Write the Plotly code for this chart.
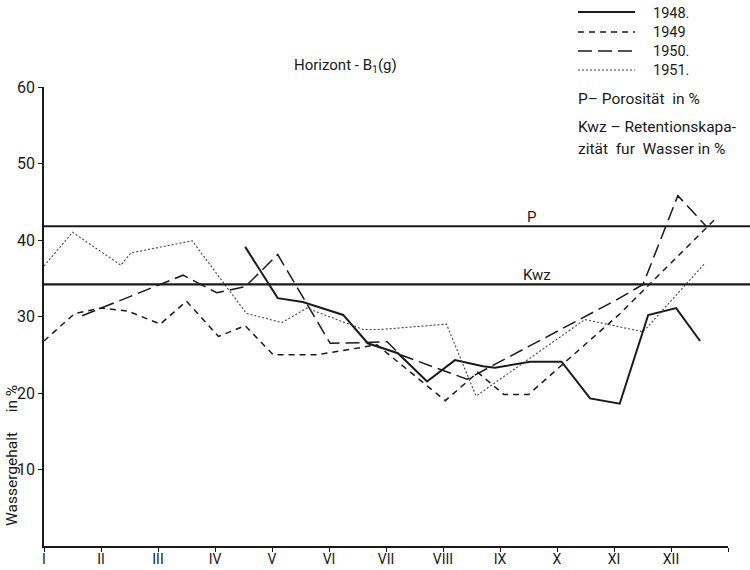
import plotly.graph_objects as go

# Wassergehalt (%) im Horizont B1(g), Monate als Index (0 = Januar)
months_1948 = [3.53, 4.1, 4.54, 5.25, 5.68, 6.21, 6.72, 7.21, 7.7, 7.91, 8.53, 9.08, 9.58, 10.1, 10.6, 11.09, 11.51]
water_1948 = [39.1, 32.4, 31.9, 30.2, 26.5, 25.2, 21.5, 24.3, 23.5, 23.3, 24.1, 24.1, 19.3, 18.6, 30.2, 31.1, 26.8]

months_1949 = [0, 0.54, 1.0, 1.48, 2.04, 2.5, 3.06, 3.53, 4.02, 4.8, 5.84, 7.04, 7.61, 8.07, 8.5, 10.11, 11.77]
water_1949 = [26.8, 30.4, 31.1, 30.7, 29.0, 32.0, 27.4, 28.8, 25.0, 25.0, 26.3, 19.0, 22.7, 19.8, 19.8, 30.4, 42.7]

months_1950 = [0.67, 2.44, 3.03, 3.53, 4.1, 5.02, 5.63, 6.02, 6.25, 7.42, 10.05, 10.51, 11.12, 11.63]
water_1950 = [30.1, 35.4, 33.1, 33.9, 38.1, 26.5, 26.6, 26.7, 25.0, 21.8, 32.2, 34.2, 45.8, 41.7]

months_1951 = [0, 0.5, 1.35, 1.52, 2.6, 3.55, 4.17, 4.61, 5.6, 5.9, 7.06, 7.58, 9.49, 10.51, 11.6]
water_1951 = [36.6, 41.0, 36.7, 38.3, 39.9, 30.4, 29.2, 31.1, 28.3, 28.3, 29.0, 19.6, 29.6, 28.0, 37.0]

porosity = 41.8        # P
retention = 34.2       # Kwz

month_labels = ["I", "II", "III", "IV", "V", "VI", "VII", "VIII", "IX", "X", "XI", "XII", " "]
y_ticks = [10, 20, 30, 40, 50, 60]
years = ["1948.", "1949", "1950.", "1951."]

FONT = "Roboto"
INK = "#1a1a1a"

W, H = 750, 570
ML, MR, MT, MB = 44, 22, 87, 24
PW, PH = W - ML - MR, H - MT - MB
Y_MIN, Y_MAX = 0, 60


def px_x(px):
    return (px - ML) / PW


def px_y(py):
    return (H - MB - py) / PH


def val_y(v):
    return (v - Y_MIN) / (Y_MAX - Y_MIN)


series = [
    (months_1948, water_1948, dict(color=INK, width=2, dash="solid")),
    (months_1949, water_1949, dict(color=INK, width=1.5, dash="6px,5px")),
    (months_1950, water_1950, dict(color=INK, width=1.5, dash="14px,6px")),
    (months_1951, water_1951, dict(color="#444444", width=1.1, dash="2px,2px")),
]

fig = go.Figure()
for (mx, wy, style), name in zip(series, years):
    fig.add_trace(go.Scatter(x=mx, y=wy, mode="lines", line=style, name=name,
                             showlegend=False))

shapes = []
# Porosität und Retentionskapazität als durchgehende Linien bis zum Rand
for v in (porosity, retention):
    shapes.append(dict(type="line", xref="paper", yref="paper",
                       x0=0, x1=px_x(W), y0=val_y(v), y1=val_y(v),
                       line=dict(color=INK, width=2.2)))

# Legende oben rechts
legend_rows = [12, 32, 51, 70]
for (mx, wy, style), row in zip(series, legend_rows):
    shapes.append(dict(type="line", xref="paper", yref="paper",
                       x0=px_x(578), x1=px_x(635), y0=px_y(row), y1=px_y(row),
                       line=style))

annotations = []
for name, row in zip(years, legend_rows):
    annotations.append(dict(text=name, xref="paper", yref="paper",
                            x=px_x(651), y=px_y(row + 1), xanchor="left",
                            yanchor="middle", showarrow=False,
                            font=dict(family=FONT, size=14.5, color=INK)))

notes = [("P\u2013 Porosität  in %", 99),
         ("Kwz \u2013 Retentionskapa-", 127),
         ("zität  fur  Wasser in %", 149)]
for txt, row in notes:
    annotations.append(dict(text=txt, xref="paper", yref="paper",
                            x=px_x(576), y=px_y(row), xanchor="left",
                            yanchor="middle", showarrow=False,
                            font=dict(family=FONT, size=15.5, color=INK)))

# Linienbeschriftungen P und Kwz
annotations.append(dict(text="P", x=8.55, y=porosity, yshift=9, xref="x", yref="y",
                        showarrow=False, font=dict(family=FONT, size=15, color=INK)))
annotations.append(dict(text="Kwz", x=8.65, y=retention, yshift=9, xref="x", yref="y",
                        showarrow=False, font=dict(family=FONT, size=15, color=INK)))

# Titel
annotations.append(dict(text="Horizont - B<sub>1</sub>(g)", xref="paper", yref="paper",
                        x=px_x(345), y=px_y(66), xanchor="center", yanchor="middle",
                        showarrow=False, font=dict(family=FONT, size=15, color=INK)))

# Achsentitel
annotations.append(dict(text="Wassergehalt\u2003 in %", xref="paper", yref="paper",
                        x=px_x(12), y=px_y(456), xanchor="center", yanchor="middle",
                        textangle=-90, showarrow=False,
                        font=dict(family=FONT, size=15.5, color=INK)))

fig.update_layout(
    width=W, height=H,
    margin=dict(l=ML, r=MR, t=MT, b=MB, autoexpand=False),
    paper_bgcolor="white", plot_bgcolor="white",
    shapes=shapes, annotations=annotations,
    xaxis=dict(range=[0, 12], tickvals=list(range(13)), ticktext=month_labels,
               showgrid=False, zeroline=False, showline=True, linecolor=INK,
               linewidth=1.5, ticks="outside", ticklen=4, tickcolor=INK,
               ticklabelstandoff=-5,
               tickfont=dict(family=FONT, size=14, color=INK)),
    yaxis=dict(range=[Y_MIN, Y_MAX], tickvals=y_ticks, showgrid=False,
               zeroline=False, showline=True, linecolor=INK, linewidth=1.5,
               ticks="outside", ticklen=4, tickcolor=INK,
               tickfont=dict(family=FONT, size=16, color=INK)),
)

fig.write_html("out.html")
